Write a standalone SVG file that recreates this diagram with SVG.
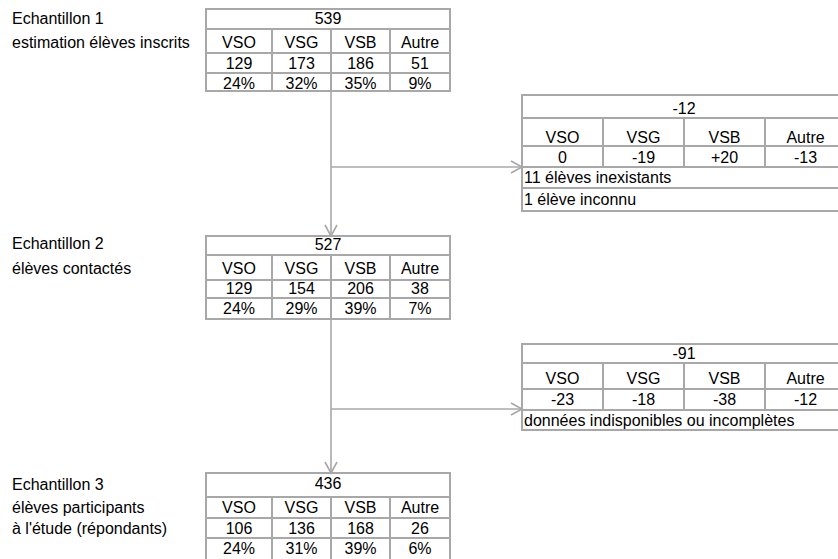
<svg xmlns="http://www.w3.org/2000/svg" width="838" height="559" viewBox="0 0 838 559">
<defs>
<style>
text{font-family:"Liberation Sans",Arial,sans-serif;font-size:16px;fill:#000}
.c{text-anchor:middle}
.b{fill:none;stroke:#a8a8a8;stroke-width:2}
.cn{fill:none;stroke:#a8a8a8;stroke-width:1.6}
</style>
<marker id="ah" markerUnits="userSpaceOnUse" markerWidth="14" markerHeight="14" viewBox="-12 -7 14 14" refX="0" refY="0" orient="auto">
<path d="M-11,-6 L0,0 L-11,6" fill="none" stroke="#a8a8a8" stroke-width="1.6"/>
</marker>
</defs>
<rect width="838" height="559" fill="#fff"/>
<g id="connectors">
<path class="cn" d="M331 91 V236" marker-end="url(#ah)"/>
<path class="cn" d="M331 319 V473" marker-end="url(#ah)"/>
<path class="cn" d="M331 167 H522" marker-end="url(#ah)"/>
<path class="cn" d="M331 409 H522" marker-end="url(#ah)"/>
</g>
<g id="label1">
<text x="12" y="24">Echantillon 1</text>
<text x="12" y="47.5">estimation élèves inscrits</text>
</g>
<g id="table1">
<rect class="b" x="206" y="9" width="244" height="82"/>
<path class="b" d="M206 29 H450 M206 53 H450 M206 73 H450 M272 29 V91 M331 29 V91 M390 29 V91"/>
<text class="c" x="328" y="24">539</text>
<text class="c" x="239" y="47.5">VSO</text><text class="c" x="301.5" y="47.5">VSG</text><text class="c" x="360.5" y="47.5">VSB</text><text class="c" x="420" y="47.5">Autre</text>
<text class="c" x="239" y="68.5">129</text><text class="c" x="301.5" y="68.5">173</text><text class="c" x="360.5" y="68.5">186</text><text class="c" x="420" y="68.5">51</text>
<text class="c" x="239" y="88.5">24%</text><text class="c" x="301.5" y="88.5">32%</text><text class="c" x="360.5" y="88.5">35%</text><text class="c" x="420" y="88.5">9%</text>
</g>
<g id="tableA">
<rect class="b" x="522" y="95" width="324" height="116"/>
<path class="b" d="M522 118 H846 M522 146 H846 M522 167 H846 M522 188 H846 M603 118 V167 M684 118 V167 M765 118 V167"/>
<text class="c" x="684" y="113.5">-12</text>
<text class="c" x="562.5" y="142.5">VSO</text><text class="c" x="643.5" y="142.5">VSG</text><text class="c" x="724.5" y="142.5">VSB</text><text class="c" x="805.5" y="142.5">Autre</text>
<text class="c" x="562.5" y="162.5">0</text><text class="c" x="643.5" y="162.5">-19</text><text class="c" x="724.5" y="162.5">+20</text><text class="c" x="805.5" y="162.5">-13</text>
<text x="524" y="183">11 élèves inexistants</text>
<text x="524" y="205">1 élève inconnu</text>
</g>
<g id="label2">
<text x="12" y="248.5">Echantillon 2</text>
<text x="12" y="273.5">élèves contactés</text>
</g>
<g id="table2">
<rect class="b" x="206" y="236" width="244" height="83"/>
<path class="b" d="M206 255 H450 M206 280 H450 M206 298 H450 M272 255 V319 M331 255 V319 M390 255 V319"/>
<text class="c" x="328" y="250">527</text>
<text class="c" x="239" y="274">VSO</text><text class="c" x="301.5" y="274">VSG</text><text class="c" x="360.5" y="274">VSB</text><text class="c" x="420" y="274">Autre</text>
<text class="c" x="239" y="294">129</text><text class="c" x="301.5" y="294">154</text><text class="c" x="360.5" y="294">206</text><text class="c" x="420" y="294">38</text>
<text class="c" x="239" y="314">24%</text><text class="c" x="301.5" y="314">29%</text><text class="c" x="360.5" y="314">39%</text><text class="c" x="420" y="314">7%</text>
</g>
<g id="tableB">
<rect class="b" x="522" y="344" width="324" height="86"/>
<path class="b" d="M522 363 H846 M522 389 H846 M522 410 H846 M603 363 V410 M684 363 V410 M765 363 V410"/>
<text class="c" x="684" y="359">-91</text>
<text class="c" x="562.5" y="384">VSO</text><text class="c" x="643.5" y="384">VSG</text><text class="c" x="724.5" y="384">VSB</text><text class="c" x="805.5" y="384">Autre</text>
<text class="c" x="562.5" y="405">-23</text><text class="c" x="643.5" y="405">-18</text><text class="c" x="724.5" y="405">-38</text><text class="c" x="805.5" y="405">-12</text>
<text x="524" y="425.5">données indisponibles ou incomplètes</text>
</g>
<g id="label3">
<text x="12" y="490">Echantillon 3</text>
<text x="12" y="512.5">élèves participants</text>
<text x="12" y="533.5">à l'étude (répondants)</text>
</g>
<g id="table3">
<rect class="b" x="206" y="473" width="244" height="90"/>
<path class="b" d="M206 497 H450 M206 518 H450 M206 538 H450 M272 497 V563 M331 497 V563 M390 497 V563"/>
<text class="c" x="328" y="489">436</text>
<text class="c" x="239" y="512.5">VSO</text><text class="c" x="301.5" y="512.5">VSG</text><text class="c" x="360.5" y="512.5">VSB</text><text class="c" x="420" y="512.5">Autre</text>
<text class="c" x="239" y="533.5">106</text><text class="c" x="301.5" y="533.5">136</text><text class="c" x="360.5" y="533.5">168</text><text class="c" x="420" y="533.5">26</text>
<text class="c" x="239" y="553.5">24%</text><text class="c" x="301.5" y="553.5">31%</text><text class="c" x="360.5" y="553.5">39%</text><text class="c" x="420" y="553.5">6%</text>
</g>
</svg>
